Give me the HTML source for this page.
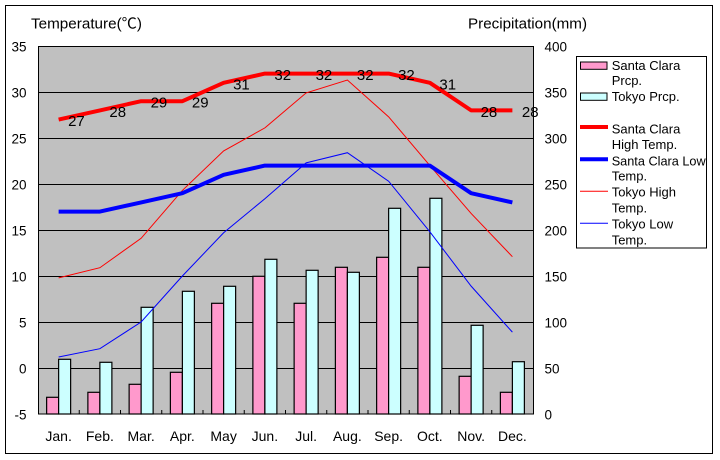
<!DOCTYPE html>
<html><head><meta charset="utf-8"><style>
html,body{margin:0;padding:0;background:#fff;}
svg{display:block;}
text{font-family:"Liberation Sans","Noto Sans CJK JP",sans-serif;fill:#000;}
</style></head><body>
<svg width="720" height="460" viewBox="0 0 720 460" xmlns="http://www.w3.org/2000/svg">
<rect x="5.5" y="5.5" width="707" height="448" fill="#fff" stroke="#000" stroke-width="1"/>
<rect x="38" y="46" width="495" height="368" fill="#c0c0c0"/>
<g stroke="#000" stroke-width="1">
<line x1="38" y1="92.5" x2="533" y2="92.5"/>
<line x1="38" y1="138.5" x2="533" y2="138.5"/>
<line x1="38" y1="184.5" x2="533" y2="184.5"/>
<line x1="38" y1="230.5" x2="533" y2="230.5"/>
<line x1="38" y1="276.5" x2="533" y2="276.5"/>
<line x1="38" y1="322.5" x2="533" y2="322.5"/>
<line x1="38" y1="368.5" x2="533" y2="368.5"/>
</g>
<g stroke="#000" stroke-width="1.2">
<rect x="46.63" y="397.3" width="12" height="16.7" fill="#ff99cc"/>
<rect x="58.63" y="359.3" width="12" height="54.7" fill="#ccffff"/>
<rect x="87.88" y="392.3" width="12" height="21.7" fill="#ff99cc"/>
<rect x="99.88" y="362.3" width="12" height="51.7" fill="#ccffff"/>
<rect x="129.13" y="384.3" width="12" height="29.7" fill="#ff99cc"/>
<rect x="141.13" y="307.3" width="12" height="106.7" fill="#ccffff"/>
<rect x="170.38" y="372.3" width="12" height="41.7" fill="#ff99cc"/>
<rect x="182.38" y="291.3" width="12" height="122.7" fill="#ccffff"/>
<rect x="211.63" y="303.3" width="12" height="110.7" fill="#ff99cc"/>
<rect x="223.63" y="286.3" width="12" height="127.7" fill="#ccffff"/>
<rect x="252.88" y="276.3" width="12" height="137.7" fill="#ff99cc"/>
<rect x="264.88" y="259.3" width="12" height="154.7" fill="#ccffff"/>
<rect x="294.13" y="303.3" width="12" height="110.7" fill="#ff99cc"/>
<rect x="306.13" y="270.3" width="12" height="143.7" fill="#ccffff"/>
<rect x="335.38" y="267.3" width="12" height="146.7" fill="#ff99cc"/>
<rect x="347.38" y="272.3" width="12" height="141.7" fill="#ccffff"/>
<rect x="376.63" y="257.3" width="12" height="156.7" fill="#ff99cc"/>
<rect x="388.63" y="208.3" width="12" height="205.7" fill="#ccffff"/>
<rect x="417.88" y="267.3" width="12" height="146.7" fill="#ff99cc"/>
<rect x="429.88" y="198.3" width="12" height="215.7" fill="#ccffff"/>
<rect x="459.13" y="376.3" width="12" height="37.7" fill="#ff99cc"/>
<rect x="471.13" y="325.3" width="12" height="88.7" fill="#ccffff"/>
<rect x="500.38" y="392.3" width="12" height="21.7" fill="#ff99cc"/>
<rect x="512.38" y="361.7" width="12" height="52.3" fill="#ccffff"/>
</g>
<g stroke="#000" stroke-width="1">
<line x1="79.25" y1="410" x2="79.25" y2="414"/>
<line x1="120.5" y1="410" x2="120.5" y2="414"/>
<line x1="161.75" y1="410" x2="161.75" y2="414"/>
<line x1="203" y1="410" x2="203" y2="414"/>
<line x1="244.25" y1="410" x2="244.25" y2="414"/>
<line x1="285.5" y1="410" x2="285.5" y2="414"/>
<line x1="326.75" y1="410" x2="326.75" y2="414"/>
<line x1="368" y1="410" x2="368" y2="414"/>
<line x1="409.25" y1="410" x2="409.25" y2="414"/>
<line x1="450.5" y1="410" x2="450.5" y2="414"/>
<line x1="491.75" y1="410" x2="491.75" y2="414"/>
</g>
<polyline fill="none" stroke="#ff0000" stroke-width="1" points="58.63,277.84 99.88,267.72 141.13,238.28 182.38,190.44 223.63,150.88 264.88,127.88 306.13,92.92 347.38,80.04 388.63,116.84 429.88,165.6 471.13,213.44 512.38,256.68"/>
<polyline fill="none" stroke="#0000ff" stroke-width="1" points="58.63,356.96 99.88,348.68 141.13,322 182.38,276 223.63,232.76 264.88,198.72 306.13,162.84 347.38,152.72 388.63,181.24 429.88,231.84 471.13,286.12 512.38,332.12"/>
<polyline fill="none" stroke="#0000ff" stroke-width="4" stroke-linejoin="round" points="58.63,211.6 99.88,211.6 141.13,202.4 182.38,193.2 223.63,174.8 264.88,165.6 306.13,165.6 347.38,165.6 388.63,165.6 429.88,165.6 471.13,193.2 512.38,202.4"/>
<polyline fill="none" stroke="#ff0000" stroke-width="4" stroke-linejoin="round" points="58.63,119.6 99.88,110.4 141.13,101.2 182.38,101.2 223.63,82.8 264.88,73.6 306.13,73.6 347.38,73.6 388.63,73.6 429.88,82.8 471.13,110.4 512.38,110.4"/>
<g font-size="15">
<text x="68.1" y="126.1">27</text>
<text x="109.4" y="116.9">28</text>
<text x="150.6" y="107.7">29</text>
<text x="191.9" y="107.7">29</text>
<text x="233.1" y="89.3">31</text>
<text x="274.4" y="80.1">32</text>
<text x="315.6" y="80.1">32</text>
<text x="356.9" y="80.1">32</text>
<text x="398.1" y="80.1">32</text>
<text x="439.4" y="89.3">31</text>
<text x="480.6" y="116.9">28</text>
<text x="521.9" y="116.9">28</text>
</g>
<rect x="38.5" y="46.5" width="495" height="367.5" fill="none" stroke="#000" stroke-width="1"/>
<g font-size="13.5" text-anchor="end">
<text x="26.5" y="51.5">35</text>
<text x="26.5" y="97.5">30</text>
<text x="26.5" y="143.5">25</text>
<text x="26.5" y="189.5">20</text>
<text x="26.5" y="235.5">15</text>
<text x="26.5" y="281.5">10</text>
<text x="26.5" y="327.5">5</text>
<text x="26.5" y="373.5">0</text>
<text x="26.5" y="419.5">-5</text>
</g>
<g font-size="13.5">
<text x="544.5" y="51.5">400</text>
<text x="544.5" y="97.5">350</text>
<text x="544.5" y="143.5">300</text>
<text x="544.5" y="189.5">250</text>
<text x="544.5" y="235.5">200</text>
<text x="544.5" y="281.5">150</text>
<text x="544.5" y="327.5">100</text>
<text x="544.5" y="373.5">50</text>
<text x="544.5" y="419.5">0</text>
</g>
<g font-size="14" text-anchor="middle">
<text x="58.63" y="441">Jan.</text>
<text x="99.88" y="441">Feb.</text>
<text x="141.13" y="441">Mar.</text>
<text x="182.38" y="441">Apr.</text>
<text x="223.63" y="441">May</text>
<text x="264.88" y="441">Jun.</text>
<text x="306.13" y="441">Jul.</text>
<text x="347.38" y="441">Aug.</text>
<text x="388.63" y="441">Sep.</text>
<text x="429.88" y="441">Oct.</text>
<text x="471.13" y="441">Nov.</text>
<text x="512.38" y="441">Dec.</text>
</g>
<text x="31" y="28.3" font-size="14.5" textLength="111" lengthAdjust="spacingAndGlyphs">Temperature(℃)</text>
<text x="468" y="28.3" font-size="14.5" textLength="119" lengthAdjust="spacingAndGlyphs">Precipitation(mm)</text>
<rect x="576.5" y="56.5" width="130" height="191.5" fill="#fff" stroke="#000" stroke-width="1"/>
<rect x="580.5" y="62" width="26.5" height="7.3" fill="#ff99cc" stroke="#000" stroke-width="1"/>
<rect x="580.5" y="93" width="26.5" height="7.3" fill="#ccffff" stroke="#000" stroke-width="1"/>
<line x1="580" y1="127" x2="608" y2="127" stroke="#ff0000" stroke-width="4"/>
<line x1="580" y1="159.3" x2="608" y2="159.3" stroke="#0000ff" stroke-width="4"/>
<line x1="580" y1="191.3" x2="608" y2="191.3" stroke="#ff0000" stroke-width="1"/>
<line x1="580" y1="223.3" x2="608" y2="223.3" stroke="#0000ff" stroke-width="1"/>
<g font-size="13">
<text x="611.7" y="70">Santa Clara</text>
<text x="611.7" y="85">Prcp.</text>
<text x="611.7" y="101">Tokyo Prcp.</text>
<text x="611.7" y="133.3">Santa Clara</text>
<text x="611.7" y="149">High Temp.</text>
<text x="611.7" y="165.5" textLength="94" lengthAdjust="spacingAndGlyphs">Santa Clara Low</text>
<text x="611.7" y="180.5">Temp.</text>
<text x="611.7" y="196.5">Tokyo High</text>
<text x="611.7" y="212.3">Temp.</text>
<text x="611.7" y="228.3">Tokyo Low</text>
<text x="611.7" y="244.3">Temp.</text>
</g>
</svg>
</body></html>
